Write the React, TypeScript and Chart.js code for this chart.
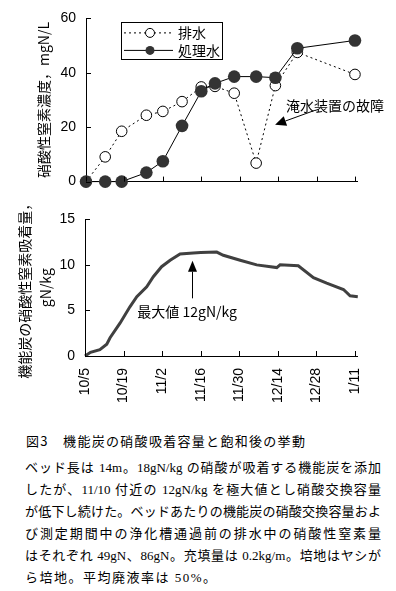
import React, { useEffect, useRef } from "react";
import { Chart, registerables } from "chart.js";
Chart.register(...registerables);

// ---- data ----
const tickDays = [0, 14, 28, 42, 56, 70, 84, 98];
const dateLabels = ["10/5", "10/19", "11/2", "11/16", "11/30", "12/14", "12/28", "1/11"];

const sampleDays = [0, 7, 13, 22, 28, 35, 42, 47, 54, 62, 69, 77, 98];
const drainValues = [0, 9.1, 18.5, 24.4, 25.8, 29.4, 34.8, 35.0, 32.5, 6.8, 35.3, 47.5, 39.4];
const treatedValues = [0, 0, 0, 3.3, 7.5, 20.5, 33.2, 36.1, 38.6, 38.6, 38.2, 49.0, 51.9];

const curveDays = [0, 2, 5.4, 7.9, 9.1, 12.7, 16.3, 18.8, 22.4, 24.8, 27.8, 30.9, 34.5, 39.3, 42, 47.8, 50.2, 56.3, 62.3, 69.6, 70.8, 77.4, 82.9, 87.7, 93.8, 96.2, 99];
const adsorption = [0, 0.4, 0.7, 1.3, 2.0, 3.6, 5.4, 6.5, 7.6, 8.7, 9.8, 10.5, 11.2, 11.3, 11.35, 11.4, 11.05, 10.5, 10.0, 9.7, 10.0, 9.9, 8.6, 8.0, 7.3, 6.6, 6.5];

const seriesNames = ["排水", "処理水"];
const topTitle = "硝酸性窒素濃度，mgN/L";
const bottomTitle = ["機能炭の硝酸性窒素吸着量，", "gN/kg"];
const faultNote = "淹水装置の故障";
const maxNote = "最大値 12gN/kg";

const captionTitle = "図3　機能炭の硝酸吸着容量と飽和後の挙動";
const captionLines = [
  "ベッド長は 14m。18gN/kg の硝酸が吸着する機能炭を添加",
  "したが、11/10 付近の 12gN/kg を極大値とし硝酸交換容量",
  "が低下し続けた。ベッドあたりの機能炭の硝酸交換容量およ",
  "び測定期間中の浄化槽通過前の排水中の硝酸性窒素量",
  "はそれぞれ 49gN、86gN。充填量は 0.2kg/m。培地はヤシが",
  "ら培地。平均廃液率は 50%。",
];

const CJK = '"Noto Sans CJK JP", sans-serif';
const NUM = '"Liberation Sans", Arial, sans-serif';

function drawArrow(ctx: CanvasRenderingContext2D, x1: number, y1: number, x2: number, y2: number, head: number, width: number) {
  const ang = Math.atan2(y2 - y1, x2 - x1);
  const bx = x2 - head * Math.cos(ang);
  const by = y2 - head * Math.sin(ang);
  ctx.beginPath();
  ctx.moveTo(x1, y1);
  ctx.lineTo(bx, by);
  ctx.stroke();
  ctx.beginPath();
  ctx.moveTo(x2, y2);
  ctx.lineTo(bx + width * Math.sin(ang), by - width * Math.cos(ang));
  ctx.lineTo(bx - width * Math.sin(ang), by + width * Math.cos(ang));
  ctx.closePath();
  ctx.fill();
}

const inwardTicks = {
  id: "inwardTicks",
  afterDraw(chart: any) {
    const { ctx, chartArea, scales } = chart;
    ctx.save();
    ctx.strokeStyle = "#000";
    ctx.lineWidth = 1;
    ctx.beginPath();
    scales.y.ticks.forEach((t: any) => {
      const py = Math.round(scales.y.getPixelForValue(t.value)) + 0.5;
      ctx.moveTo(chartArea.left, py);
      ctx.lineTo(chartArea.left + 5, py);
    });
    scales.x.ticks.forEach((t: any) => {
      const px = Math.round(scales.x.getPixelForValue(t.value)) + 0.5;
      ctx.moveTo(px, chartArea.bottom);
      ctx.lineTo(px, chartArea.bottom - 5);
    });
    ctx.stroke();
    ctx.restore();
  },
};

const topDecor = {
  id: "topDecor",
  afterDraw(chart: any) {
    const { ctx, chartArea, scales } = chart;
    const x = scales.x, y = scales.y;
    ctx.save();
    // legend box
    const bl = chartArea.left + 35, bt = chartArea.top + 4, bw = 101, bh = 37;
    ctx.strokeStyle = "#000";
    ctx.lineWidth = 1;
    ctx.fillStyle = "#fff";
    ctx.fillRect(bl, bt, bw, bh);
    ctx.strokeRect(Math.round(bl) + 0.5, Math.round(bt) + 0.5, bw, bh);
    const r1 = bt + 10.5, r2 = bt + 28;
    ctx.setLineDash([2, 3]);
    ctx.beginPath();
    ctx.moveTo(bl + 3, r1);
    ctx.lineTo(bl + 52, r1);
    ctx.stroke();
    ctx.setLineDash([]);
    ctx.beginPath();
    ctx.arc(bl + 29, r1, 4.5, 0, Math.PI * 2);
    ctx.fillStyle = "#fff";
    ctx.fill();
    ctx.stroke();
    ctx.beginPath();
    ctx.moveTo(bl + 3, r2);
    ctx.lineTo(bl + 52, r2);
    ctx.stroke();
    ctx.beginPath();
    ctx.arc(bl + 29, r2, 4.5, 0, Math.PI * 2);
    ctx.fillStyle = "#333";
    ctx.fill();
    ctx.fillStyle = "#000";
    ctx.font = "14px " + CJK;
    ctx.textBaseline = "middle";
    ctx.textAlign = "left";
    ctx.fillText(seriesNames[0], bl + 57, r1);
    ctx.fillText(seriesNames[1], bl + 57, r2);
    // fault annotation
    ctx.fillText(faultNote, x.getPixelForValue(72.9), y.getPixelForValue(28));
    drawArrow(ctx, x.getPixelForValue(83.4), y.getPixelForValue(26.2), x.getPixelForValue(68.9), y.getPixelForValue(20.9), 11, 5);
    ctx.restore();
  },
};

const bottomDecor = {
  id: "bottomDecor",
  afterDraw(chart: any) {
    const { ctx, scales } = chart;
    const x = scales.x, y = scales.y;
    ctx.save();
    ctx.strokeStyle = "#000";
    ctx.fillStyle = "#000";
    ctx.lineWidth = 1;
    const ax = Math.round(x.getPixelForValue(38.7)) + 0.5;
    drawArrow(ctx, ax, y.getPixelForValue(6.33), ax, y.getPixelForValue(10.46), 11, 4.5);
    ctx.font = "14px " + CJK;
    ctx.textBaseline = "middle";
    ctx.textAlign = "left";
    ctx.fillText(maxNote, x.getPixelForValue(19), y.getPixelForValue(4.86));
    ctx.restore();
  },
};

export default function App() {
  const topRef = useRef<HTMLCanvasElement>(null);
  const botRef = useRef<HTMLCanvasElement>(null);

  useEffect(() => {
    const tickFont = { family: NUM, size: 14 };
    const c1 = new Chart(topRef.current!, {
      type: "line",
      data: {
        datasets: [
          {
            label: seriesNames[0],
            data: sampleDays.map((d, i) => ({ x: d, y: drainValues[i] })),
            borderColor: "#000",
            borderWidth: 1,
            borderDash: [2, 3],
            pointRadius: 5.3,
            pointBackgroundColor: "#fff",
            pointBorderColor: "#000",
            pointBorderWidth: 1,
            order: 2,
            clip: false as any,
          },
          {
            label: seriesNames[1],
            data: sampleDays.map((d, i) => ({ x: d, y: treatedValues[i] })),
            borderColor: "#000",
            borderWidth: 1,
            pointRadius: 6.3,
            pointBackgroundColor: "#333",
            pointBorderColor: "#333",
            pointBorderWidth: 0,
            order: 1,
            clip: false as any,
          },
        ],
      },
      options: {
        animation: false,
        responsive: true,
        maintainAspectRatio: false,
        layout: { padding: { left: 0, right: 38.3, top: 12, bottom: 0 } },
        plugins: { legend: { display: false }, tooltip: { enabled: false } },
        scales: {
          x: {
            type: "linear",
            min: 0,
            max: 99,
            afterBuildTicks: (s: any) => { s.ticks = tickDays.map((v) => ({ value: v })); },
            afterFit: (s: any) => { s.height = 17.3; },
            ticks: { display: false },
            grid: { display: false, drawTicks: false },
            border: { display: true, color: "#000", width: 1 },
          },
          y: {
            min: 0,
            max: 60,
            afterFit: (s: any) => { s.width = 86; },
            ticks: { stepSize: 20, font: tickFont, color: "#000", padding: 10 },
            grid: { display: false, drawTicks: false },
            border: { display: true, color: "#000", width: 1 },
            title: { display: true, text: topTitle, font: { family: CJK, size: 14 }, color: "#000", padding: { top: 35, bottom: 0 } },
          },
        },
      } as any,
      plugins: [inwardTicks, topDecor],
    });

    const c2 = new Chart(botRef.current!, {
      type: "line",
      data: {
        datasets: [
          {
            data: curveDays.map((d, i) => ({ x: d, y: adsorption[i] })),
            borderColor: "#404040",
            borderWidth: 3,
            pointRadius: 0,
            tension: 0,
            clip: false as any,
          },
        ],
      },
      options: {
        animation: false,
        responsive: true,
        maintainAspectRatio: false,
        layout: { padding: { left: 0, right: 38.2, top: 19.3, bottom: 0 } },
        plugins: { legend: { display: false }, tooltip: { enabled: false } },
        scales: {
          x: {
            type: "linear",
            min: 0,
            max: 99,
            afterBuildTicks: (s: any) => { s.ticks = tickDays.map((v) => ({ value: v })); },
            afterFit: (s: any) => { s.height = 54; },
            ticks: {
              font: tickFont,
              color: "#000",
              padding: 12,
              minRotation: 90,
              maxRotation: 90,
              autoSkip: false,
              callback: (v: any) => {
                const i = tickDays.indexOf(Number(v));
                return i >= 0 ? dateLabels[i] : "";
              },
            },
            grid: { display: false, drawTicks: false },
            border: { display: true, color: "#000", width: 1 },
          },
          y: {
            min: 0,
            max: 15,
            afterFit: (s: any) => { s.width = 85; },
            ticks: { stepSize: 5, font: tickFont, color: "#000", padding: 10 },
            grid: { display: false, drawTicks: false },
            border: { display: true, color: "#000", width: 1 },
            title: { display: true, text: bottomTitle, font: { family: CJK, size: 14, lineHeight: 1.5 }, color: "#000", padding: { top: 14.5, bottom: 0 } },
          },
        },
      } as any,
      plugins: [inwardTicks, bottomDecor],
    });

    return () => {
      c1.destroy();
      c2.destroy();
    };
  }, []);

  const bodyFont = '"Liberation Serif", "Noto Sans CJK JP", serif';
  return (
    <div style={{ position: "absolute", left: 0, top: 0, width: 396, height: 591, background: "#fff", overflow: "hidden" }}>
      <div style={{ position: "absolute", left: 0, top: 0, width: 396, height: 200 }}>
        <canvas ref={topRef} />
      </div>
      <div style={{ position: "absolute", left: 0, top: 200, width: 396, height: 210 }}>
        <canvas ref={botRef} />
      </div>
      <div
        style={{
          position: "absolute",
          left: 26,
          top: 432,
          fontFamily: CJK,
          fontSize: 13,
          lineHeight: "18px",
          letterSpacing: 1.3,
          color: "#000",
          whiteSpace: "nowrap",
        }}
      >
        {captionTitle}
      </div>
      {captionLines.map((t, i) => (
        <div
          key={i}
          style={{
            position: "absolute",
            left: 25,
            top: 459 + i * 22,
            width: i === captionLines.length - 1 ? "auto" : 356,
            fontFamily: bodyFont,
            fontSize: 13,
            lineHeight: "18px",
            color: "#000",
            textAlign: i === captionLines.length - 1 ? "left" : "justify",
            textAlignLast: i === captionLines.length - 1 ? "left" : "justify",
            letterSpacing: i === captionLines.length - 1 ? 1.5 : 0,
            whiteSpace: i === captionLines.length - 1 ? "nowrap" : "normal",
          } as any}
        >
          {t}
        </div>
      ))}
    </div>
  );
}
